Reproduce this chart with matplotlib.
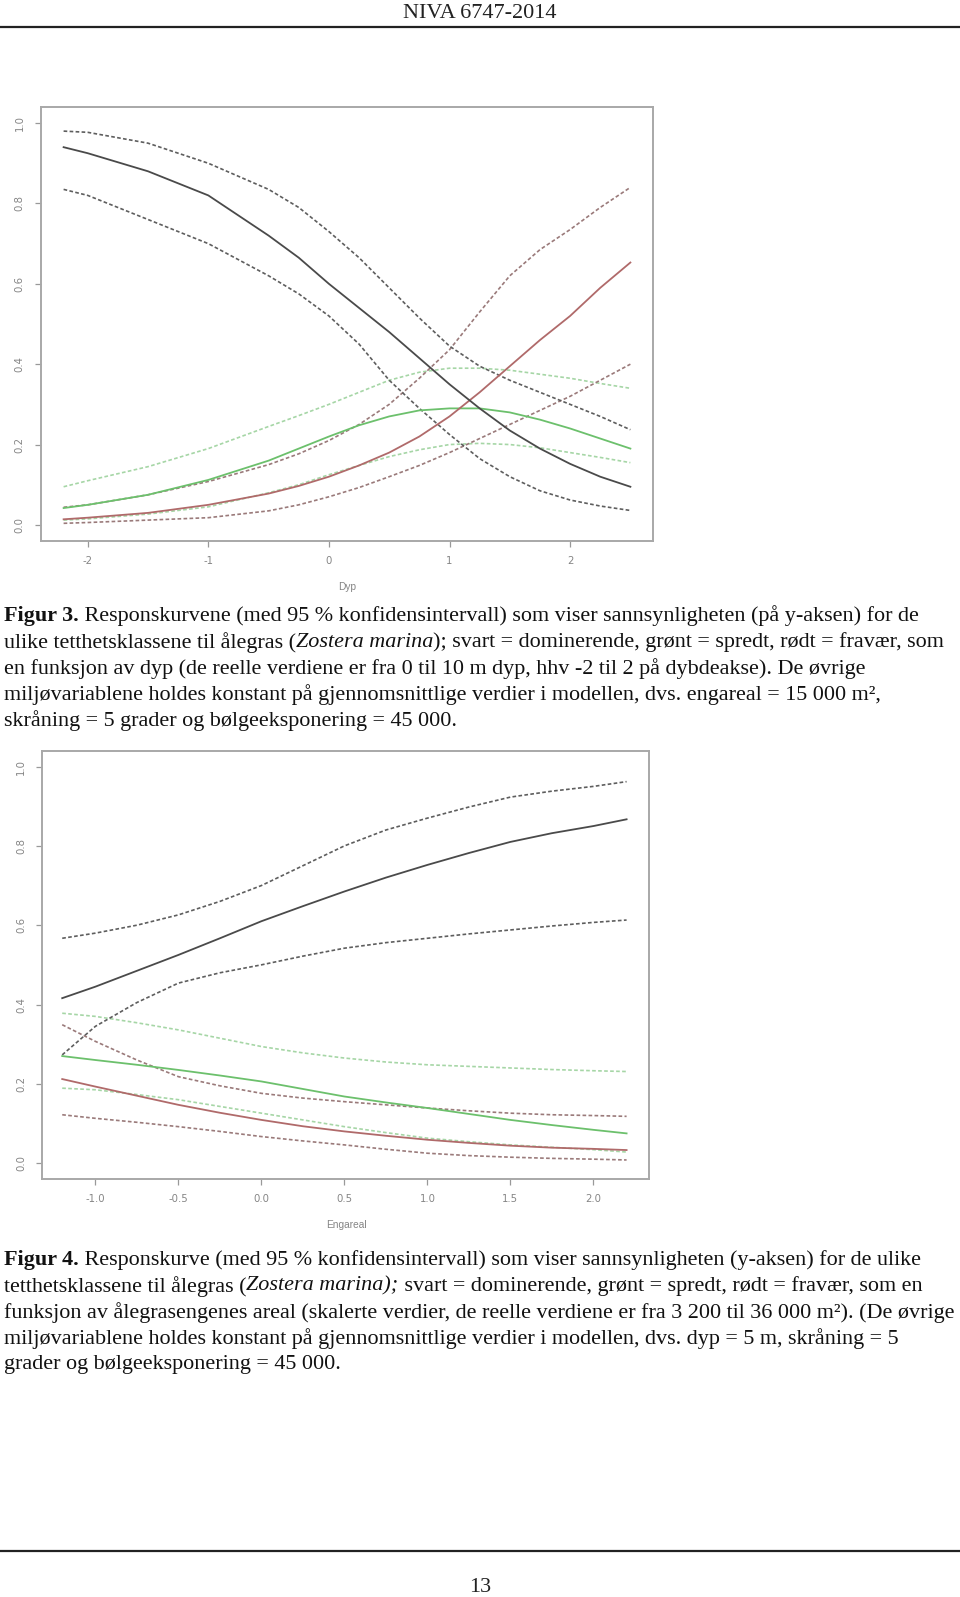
import matplotlib
matplotlib.use('Agg')
import matplotlib.pyplot as plt
from matplotlib.lines import Line2D

W, H = 960, 1597

# Figur 3 - dyp
dyp_x = [-2.2, -2.0, -1.5, -1.0, -0.5, -0.25, 0.0, 0.25, 0.5, 0.75, 1.0, 1.25, 1.5, 1.75, 2.0, 2.25, 2.5]
dyp_svart = [0.94, 0.925, 0.88, 0.82, 0.72, 0.665, 0.60, 0.54, 0.48, 0.415, 0.35, 0.29, 0.235, 0.19, 0.152, 0.12, 0.095]
dyp_svart_ovre = [0.98, 0.977, 0.95, 0.90, 0.835, 0.79, 0.73, 0.665, 0.59, 0.515, 0.445, 0.395, 0.36, 0.33, 0.30, 0.27, 0.237]
dyp_svart_nedre = [0.835, 0.82, 0.76, 0.70, 0.62, 0.575, 0.52, 0.45, 0.36, 0.29, 0.225, 0.165, 0.12, 0.085, 0.062, 0.047, 0.036]
dyp_rod = [0.014, 0.018, 0.03, 0.05, 0.078, 0.097, 0.12, 0.148, 0.18, 0.22, 0.27, 0.33, 0.395, 0.46, 0.52, 0.59, 0.653]
dyp_rod_ovre = [0.044, 0.05, 0.075, 0.108, 0.15, 0.177, 0.21, 0.25, 0.30, 0.365, 0.436, 0.53, 0.62, 0.685, 0.735, 0.79, 0.84]
dyp_rod_nedre = [0.004, 0.006, 0.012, 0.018, 0.035, 0.05, 0.07, 0.093, 0.12, 0.148, 0.18, 0.215, 0.25, 0.285, 0.32, 0.36, 0.40]
dyp_gronn = [0.042, 0.05, 0.075, 0.112, 0.16, 0.19, 0.22, 0.248, 0.27, 0.285, 0.29, 0.29, 0.28, 0.262, 0.24, 0.215, 0.19]
dyp_gronn_ovre = [0.095, 0.11, 0.145, 0.19, 0.245, 0.272, 0.30, 0.33, 0.36, 0.38, 0.39, 0.39, 0.385, 0.375, 0.365, 0.352, 0.34]
dyp_gronn_nedre = [0.012, 0.015, 0.027, 0.045, 0.08, 0.10, 0.125, 0.148, 0.17, 0.187, 0.20, 0.203, 0.20, 0.192, 0.18, 0.168, 0.155]

# Figur 4 - engareal
eng_x = [-1.2, -1.0, -0.75, -0.5, -0.25, 0.0, 0.25, 0.5, 0.75, 1.0, 1.25, 1.5, 1.75, 2.0, 2.2]
eng_svart = [0.416, 0.445, 0.485, 0.525, 0.567, 0.61, 0.648, 0.685, 0.72, 0.752, 0.782, 0.81, 0.832, 0.85, 0.867]
eng_svart_ovre = [0.567, 0.58, 0.60, 0.626, 0.66, 0.70, 0.75, 0.80, 0.84, 0.87, 0.898, 0.923, 0.938, 0.95, 0.962]
eng_svart_nedre = [0.273, 0.345, 0.405, 0.454, 0.48, 0.50, 0.522, 0.542, 0.556, 0.567, 0.578, 0.588, 0.598, 0.607, 0.613]
eng_gronn = [0.27, 0.26, 0.248, 0.235, 0.221, 0.206, 0.187, 0.168, 0.153, 0.139, 0.124, 0.109, 0.096, 0.084, 0.075]
eng_gronn_ovre = [0.378, 0.37, 0.354, 0.336, 0.315, 0.294, 0.278, 0.265, 0.255, 0.248, 0.244, 0.24, 0.236, 0.233, 0.231]
eng_gronn_nedre = [0.189, 0.185, 0.173, 0.16, 0.143, 0.126, 0.109, 0.092, 0.077, 0.063, 0.054, 0.046, 0.04, 0.034, 0.028]
eng_rod = [0.212, 0.193, 0.17, 0.147, 0.127, 0.109, 0.093, 0.08, 0.069, 0.059, 0.051, 0.044, 0.039, 0.036, 0.033]
eng_rod_ovre = [0.349, 0.307, 0.26, 0.218, 0.195, 0.176, 0.164, 0.155, 0.147, 0.139, 0.132, 0.126, 0.122, 0.12, 0.118]
eng_rod_nedre = [0.122, 0.113, 0.103, 0.092, 0.08, 0.067, 0.056, 0.046, 0.035, 0.025, 0.019, 0.015, 0.012, 0.01, 0.008]

dyp_ticks = [-2, -1, 0, 1, 2]
dyp_ticklabels = ['-2', '-1', '0', '1', '2']
eng_ticks = [-1.0, -0.5, 0.0, 0.5, 1.0, 1.5, 2.0]
eng_ticklabels = ['-1.0', '-0.5', '0.0', '0.5', '1.0', '1.5', '2.0']
y_ticks = [0.0, 0.2, 0.4, 0.6, 0.8, 1.0]
y_ticklabels = ['0.0', '0.2', '0.4', '0.6', '0.8', '1.0']

caption3 = [
    [('Figur 3.', 'b'), (' Responskurvene (med 95 % konfidensintervall) som viser sannsynligheten (på y-aksen) for de', '')],
    [('ulike tetthetsklassene til ålegras (', ''), ('Zostera marina', 'i'), ('); svart = dominerende, grønt = spredt, rødt = fravær, som', '')],
    [('en funksjon av dyp (de reelle verdiene er fra 0 til 10 m dyp, hhv -2 til 2 på dybdeakse). De øvrige', '')],
    [('miljøvariablene holdes konstant på gjennomsnittlige verdier i modellen, dvs. engareal = 15 000 m², ', '')],
    [('skråning = 5 grader og bølgeeksponering = 45 000.', '')],
]
caption4 = [
    [('Figur 4.', 'b'), (' Responskurve (med 95 % konfidensintervall) som viser sannsynligheten (y-aksen) for de ulike', '')],
    [('tetthetsklassene til ålegras (', ''), ('Zostera marina);', 'i'), (' svart = dominerende, grønt = spredt, rødt = fravær, som en', '')],
    [('funksjon av ålegrasengenes areal (skalerte verdier, de reelle verdiene er fra 3 200 til 36 000 m²). (De øvrige', '')],
    [('miljøvariablene holdes konstant på gjennomsnittlige verdier i modellen, dvs. dyp = 5 m, skråning = 5', '')],
    [('grader og bølgeeksponering = 45 000.', '')],
]

SVART = '#4a4a4a'
SVART_D = '#5e5e5e'
ROD = '#b06a6a'
ROD_D = '#9a7a7a'
GRONN = '#6cc06c'
GRONN_D = '#a6d6a6'
DASH = (2.2, 1.4)

fig = plt.figure(figsize=(W / 100, H / 100), dpi=100)
renderer = fig.canvas.get_renderer()


def px_axes(left, top, right, bottom):
    return fig.add_axes([left / W, 1 - bottom / H, (right - left) / W, (bottom - top) / H])


def r_style(ax, xticks, xlabels, xlim, xlab, xlab_pos):
    ax.set_xlim(*xlim)
    ax.set_ylim(-0.04, 1.04)
    for s in ax.spines.values():
        s.set_color('#a8a8a8')
        s.set_linewidth(1.4)
    ax.set_xticks(xticks)
    ax.set_xticklabels(xlabels)
    ax.set_yticks(y_ticks)
    ax.set_yticklabels(y_ticklabels, rotation=90, va='center')
    ax.tick_params(length=4.5, width=0.9, color='#999999', labelcolor='#858585',
                   labelsize=7.3, pad=6)
    ax.tick_params(axis='y', pad=7)
    fig.text(xlab_pos[0] / W, 1 - xlab_pos[1] / H, xlab, fontsize=7.3, color='#858585',
             ha='center', va='center', family='Liberation Sans')


def curves(ax, x, sets):
    for y, col, dashed in sets:
        if dashed:
            ax.plot(x, y, color=col, lw=1.2, dashes=DASH)
        else:
            ax.plot(x, y, color=col, lw=1.3)


ax1 = px_axes(40.7, 107, 653.3, 541)
curves(ax1, dyp_x, [
    (dyp_gronn_ovre, GRONN_D, True), (dyp_gronn_nedre, GRONN_D, True),
    (dyp_rod_ovre, ROD_D, True), (dyp_rod_nedre, ROD_D, True),
    (dyp_svart_ovre, SVART_D, True), (dyp_svart_nedre, SVART_D, True),
    (dyp_gronn, GRONN, False), (dyp_rod, ROD, False), (dyp_svart, SVART, False),
])
r_style(ax1, dyp_ticks, dyp_ticklabels, (-2.39, 2.69), 'Dyp', (347, 587))

ax2 = px_axes(42.3, 750.7, 649, 1179)
curves(ax2, eng_x, [
    (eng_gronn_ovre, GRONN_D, True), (eng_gronn_nedre, GRONN_D, True),
    (eng_rod_ovre, ROD_D, True), (eng_rod_nedre, ROD_D, True),
    (eng_svart_ovre, SVART_D, True), (eng_svart_nedre, SVART_D, True),
    (eng_gronn, GRONN, False), (eng_rod, ROD, False), (eng_svart, SVART, False),
])
r_style(ax2, eng_ticks, eng_ticklabels, (-1.32, 2.335), 'Engareal', (346, 1225))


def rich_line(x_px, y_px, parts, size=15.9):
    x = x_px
    for txt, st in parts:
        t = fig.text(x / W, 1 - y_px / H, txt, fontsize=size, family='Liberation Serif',
                     fontweight='bold' if 'b' in st else 'normal',
                     fontstyle='italic' if 'i' in st else 'normal',
                     ha='left', va='center', color='#111111')
        bb = t.get_window_extent(renderer=renderer)
        x = bb.x1


for i, parts in enumerate(caption3):
    rich_line(4, 616 + i * 26.2, parts)
for i, parts in enumerate(caption4):
    rich_line(4, 1260 + i * 26.1, parts)

# header and footer
fig.text(480 / W, 1 - 13.5 / H, 'NIVA 6747-2014', fontsize=16, family='Liberation Serif',
         ha='center', va='center', color='#222222')
fig.add_artist(Line2D([0, 1], [1 - 26.5 / H] * 2, color='#222222', lw=1.6))
fig.add_artist(Line2D([0, 1], [1 - 1551 / H] * 2, color='#222222', lw=1.6))
fig.text(480 / W, 1 - 1587 / H, '13', fontsize=16, family='Liberation Serif',
         ha='center', va='center', color='#222222')

fig.savefig('out.png', dpi=100)
